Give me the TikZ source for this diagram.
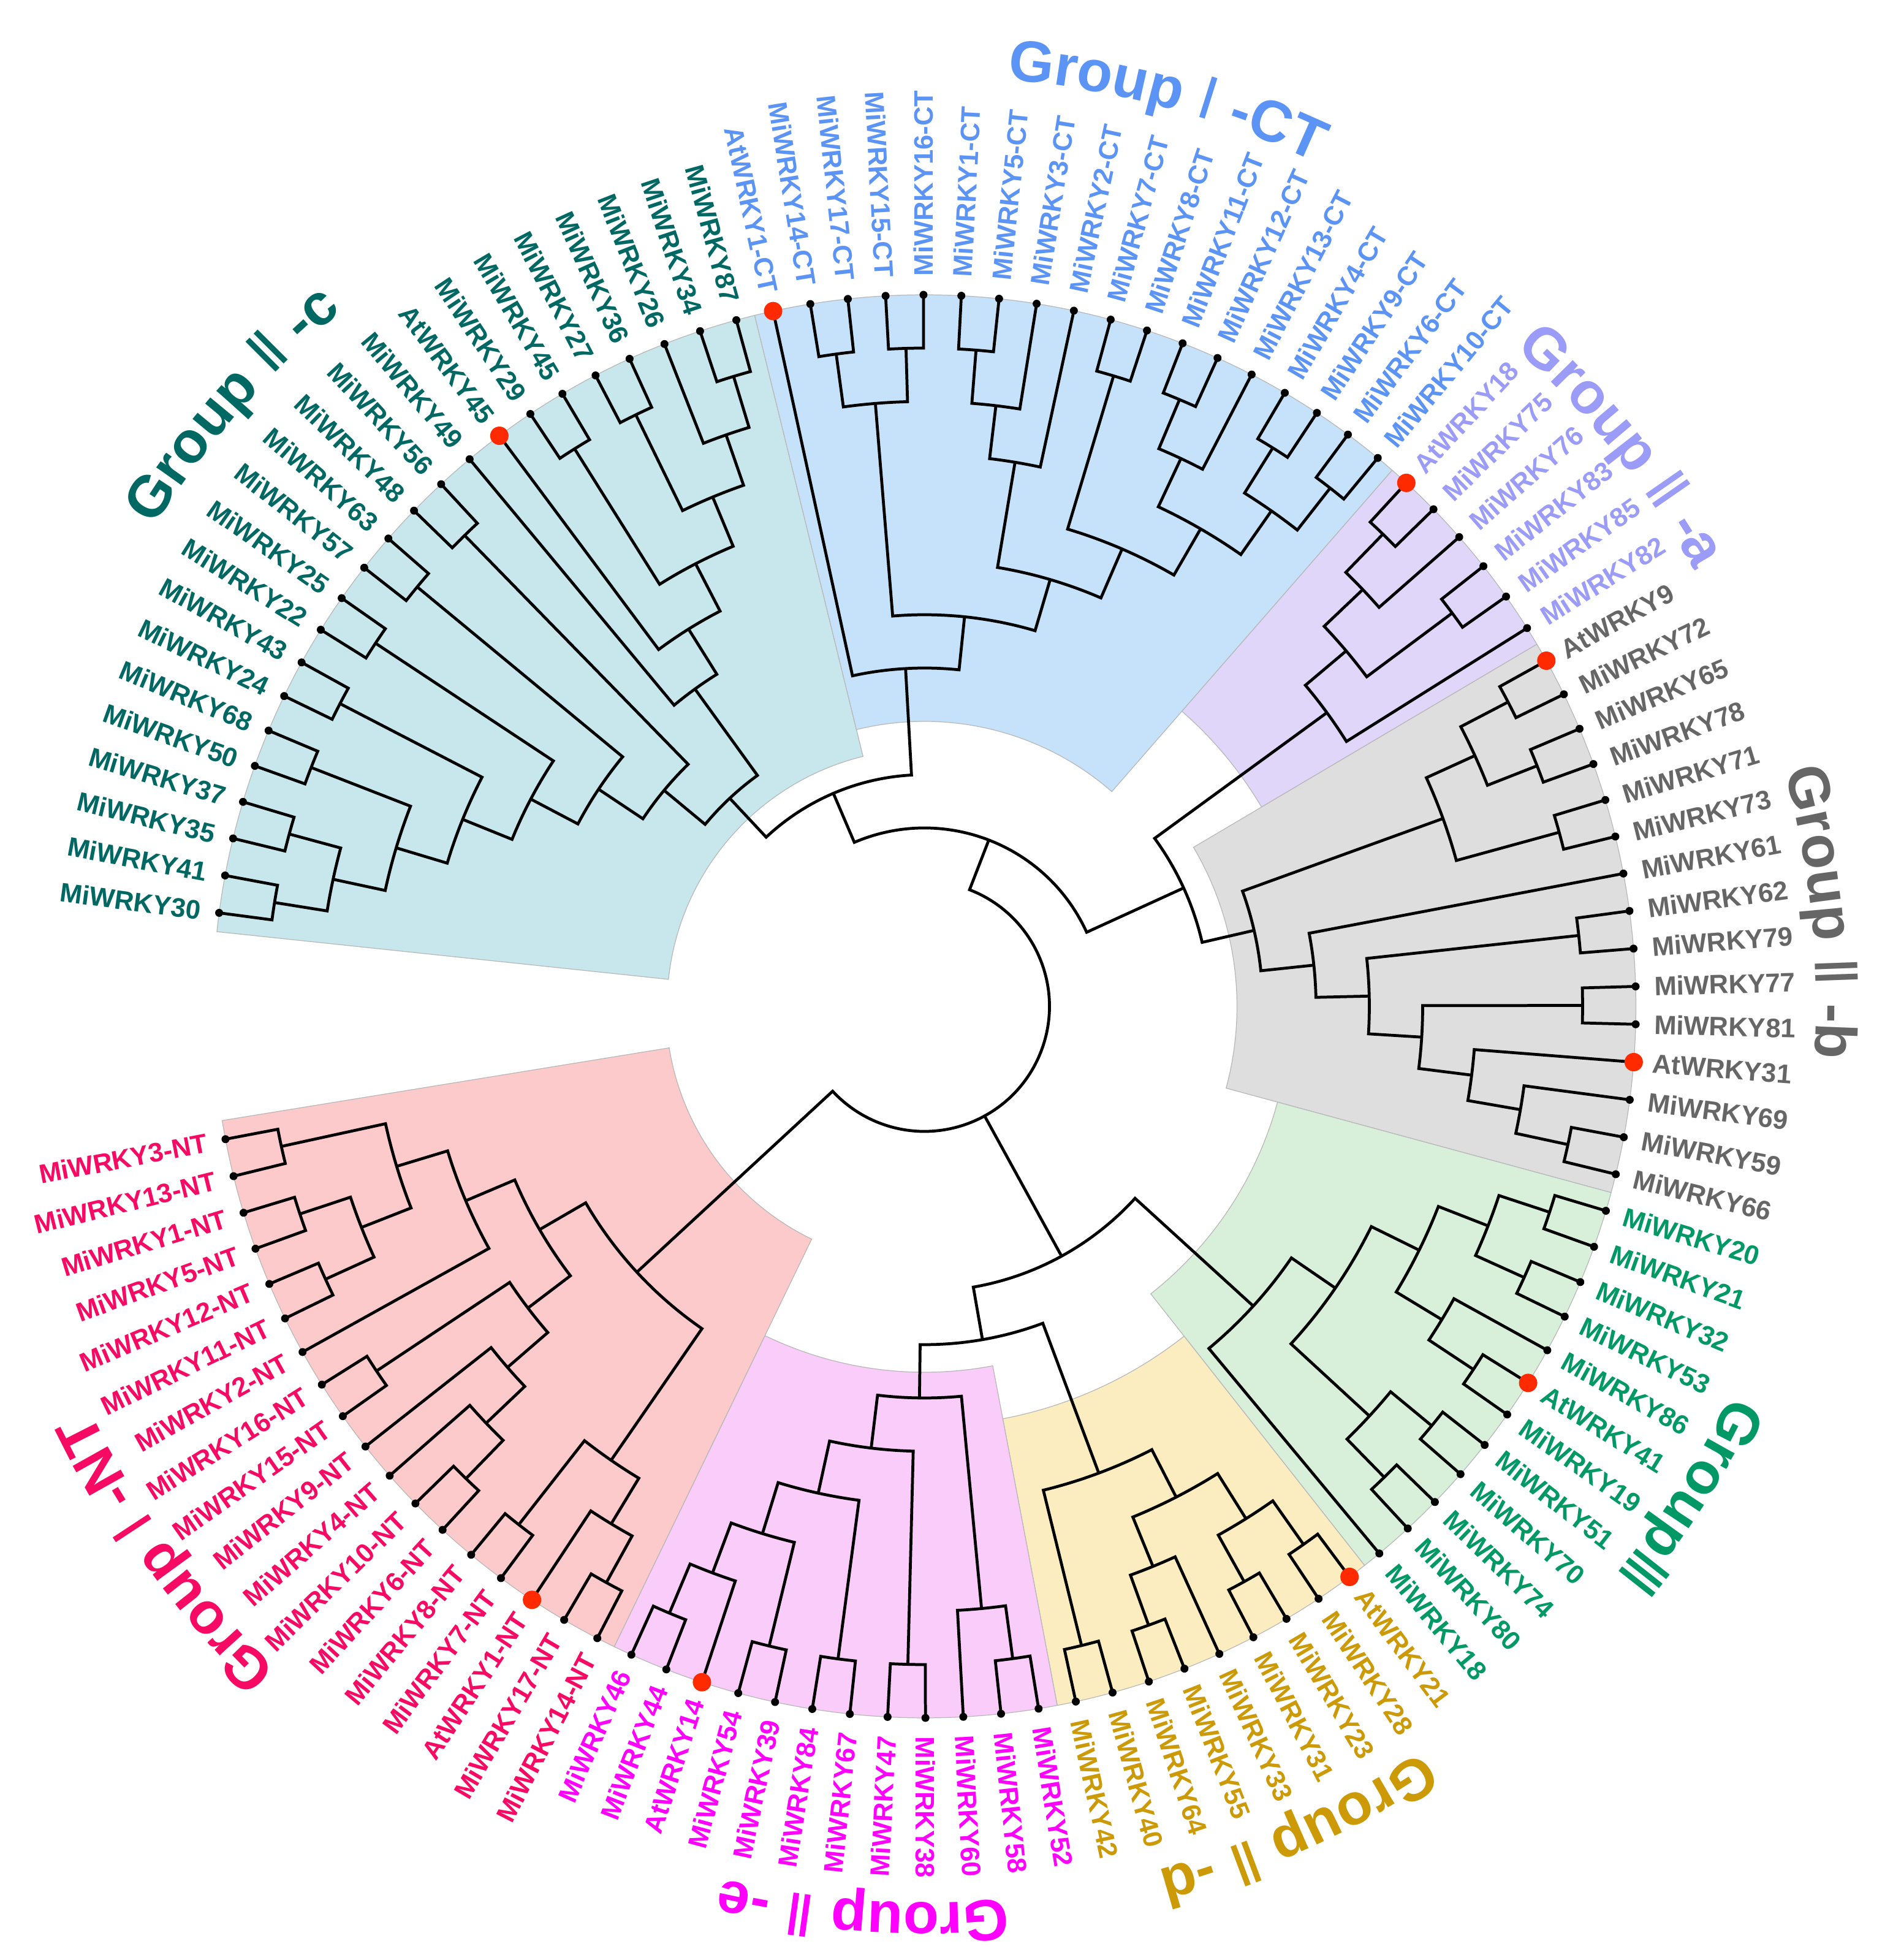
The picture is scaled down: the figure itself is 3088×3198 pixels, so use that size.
\documentclass[tikz,border=0pt]{standalone}
\usepackage{fontspec}
\setmainfont{Liberation Sans}
\newfontfamily\numfont{DejaVu Sans}
\usetikzlibrary{decorations.text}

\definecolor{cIIc}{HTML}{006863}
\definecolor{cICT}{HTML}{5C94F5}
\definecolor{cIIa}{HTML}{9B9BF8}
\definecolor{cIIb}{HTML}{666666}
\definecolor{cIII}{HTML}{009966}
\definecolor{cIId}{HTML}{CC9A06}
\definecolor{cIIe}{HTML}{FF00FF}
\definecolor{cINT}{HTML}{F70A64}
\definecolor{fIIc}{HTML}{C8E7EC}
\definecolor{fICT}{HTML}{C6E2FA}
\definecolor{fIIa}{HTML}{E0D6FA}
\definecolor{fIIb}{HTML}{DEDEDE}
\definecolor{fIII}{HTML}{D8F0DA}
\definecolor{fIId}{HTML}{FCEDC0}
\definecolor{fIIe}{HTML}{F9CCF9}
\definecolor{fINT}{HTML}{FCCACA}
\definecolor{atred}{HTML}{FF2A00}

\newcommand\gf{\fontsize{27}{30}\selectfont\bfseries}
\newcommand\gn{\numfont\fontsize{27}{30}\selectfont}

\newif\ifflipped
% leaf: index, label, colour
\newcommand\mkleaf[3]{%
  \pgfmathsetmacro\tL{172.45-3.0508*#1}%
  \expandafter\xdef\csname a@L#1\endcsname{\tL}%
  \expandafter\xdef\csname h@L#1\endcsname{0}%
  \coordinate (L#1) at (\tL:1161);
  \flippedfalse
  \ifdim\tL pt>90.5pt \flippedtrue\fi
  \ifdim\tL pt<-90.5pt \flippedtrue\fi
  \ifflipped
    \pgfmathsetmacro\tLr{\tL+180}%
    \node[lab,text=#3,rotate=\tLr,anchor=east] (T#1) at (\tL:1191) {#2};
  \else
    \node[lab,text=#3,rotate=\tL,anchor=west] (T#1) at (\tL:1191) {#2};
  \fi
}
% internal node: name, child1, child2
\newcommand\mknode[3]{%
  \edef\tA{\csname a@#2\endcsname}%
  \edef\tB{\csname a@#3\endcsname}%
  \pgfmathsetmacro\tH{max(\csname h@#2\endcsname,\csname h@#3\endcsname)+1}%
  \pgfmathsetmacro\tR{1161-87*\tH}%
  \pgfmathsetmacro\tM{(\tA+\tB)/2}%
  \expandafter\xdef\csname a@#1\endcsname{\tM}%
  \expandafter\xdef\csname h@#1\endcsname{\tH}%
  \coordinate (#1) at (\tM:\tR);
  \draw[br] (#2) -- (\tA:\tR) arc[start angle=\tA,end angle=\tB,radius=\tR] -- (#3);
}
% sector: start angle, end angle, inner radius, fill
\newcommand\mksector[4]{%
  \filldraw[fill=#4,draw=black!28,line width=0.35pt] (#1:#3) -- (#1:1161) arc[start angle=#1,end angle=#2,radius=1161] -- (#2:#3) arc[start angle=#2,end angle=#1,radius=#3] -- cycle;
}
% group label along a clockwise arc: centre angle, radius, text
\newcommand\mkgroup[3]{%
  \pgfmathsetmacro\gA{#1+75}\pgfmathsetmacro\gB{#1-75}%
  \path[decorate,decoration={text along path,text align=center,text={#3}}] (\gA:#2) arc[start angle=\gA,end angle=\gB,radius=#2];
}

\begin{document}
\begin{tikzpicture}[x=0.01cm,y=0.01cm,
  br/.style={line width=1.35pt},
  lab/.style={font=\fontsize{12.4}{14}\selectfont\bfseries,inner sep=0pt}]
\useasboundingbox (-1508.5,-1556) rectangle (1579.5,1642);
\fill[white] (-1508.5,-1556) rectangle (1579.5,1642);

% shaded sectors
\mksector{173.975}{103.807}{420}{fIIc}
\mksector{103.807}{48.893}{465}{fICT}
\mksector{48.893}{30.588}{639}{fIIa}
\mksector{30.588}{-15.174}{510}{fIIb}
\mksector{-15.174}{-51.784}{597}{fIII}
\mksector{-51.784}{-79.241}{685}{fIId}
\mksector{-79.241}{-115.851}{597}{fIIe}
\mksector{-115.851}{-170.765}{422}{fINT}

% leaves
\mkleaf{0}{MiWRKY30}{cIIc}
\mkleaf{1}{MiWRKY41}{cIIc}
\mkleaf{2}{MiWRKY35}{cIIc}
\mkleaf{3}{MiWRKY37}{cIIc}
\mkleaf{4}{MiWRKY50}{cIIc}
\mkleaf{5}{MiWRKY68}{cIIc}
\mkleaf{6}{MiWRKY24}{cIIc}
\mkleaf{7}{MiWRKY43}{cIIc}
\mkleaf{8}{MiWRKY22}{cIIc}
\mkleaf{9}{MiWRKY25}{cIIc}
\mkleaf{10}{MiWRKY57}{cIIc}
\mkleaf{11}{MiWRKY63}{cIIc}
\mkleaf{12}{MiWRKY48}{cIIc}
\mkleaf{13}{MiWRKY56}{cIIc}
\mkleaf{14}{MiWRKY49}{cIIc}
\mkleaf{15}{AtWRKY45}{cIIc}
\mkleaf{16}{MiWRKY29}{cIIc}
\mkleaf{17}{MiWRKY45}{cIIc}
\mkleaf{18}{MiWRKY27}{cIIc}
\mkleaf{19}{MiWRKY36}{cIIc}
\mkleaf{20}{MiWRKY26}{cIIc}
\mkleaf{21}{MiWRKY34}{cIIc}
\mkleaf{22}{MiWRKY87}{cIIc}
\mkleaf{23}{AtWRKY1-CT}{cICT}
\mkleaf{24}{MiWRKY14-CT}{cICT}
\mkleaf{25}{MiWRKY17-CT}{cICT}
\mkleaf{26}{MiWRKY15-CT}{cICT}
\mkleaf{27}{MiWRKY16-CT}{cICT}
\mkleaf{28}{MiWRKY1-CT}{cICT}
\mkleaf{29}{MiWRKY5-CT}{cICT}
\mkleaf{30}{MiWRKY3-CT}{cICT}
\mkleaf{31}{MiWRKY2-CT}{cICT}
\mkleaf{32}{MiWRKY7-CT}{cICT}
\mkleaf{33}{MiWRKY8-CT}{cICT}
\mkleaf{34}{MiWRKY11-CT}{cICT}
\mkleaf{35}{MiWRKY12-CT}{cICT}
\mkleaf{36}{MiWRKY13-CT}{cICT}
\mkleaf{37}{MiWRKY4-CT}{cICT}
\mkleaf{38}{MiWRKY9-CT}{cICT}
\mkleaf{39}{MiWRKY6-CT}{cICT}
\mkleaf{40}{MiWRKY10-CT}{cICT}
\mkleaf{41}{AtWRKY18}{cIIa}
\mkleaf{42}{MiWRKY75}{cIIa}
\mkleaf{43}{MiWRKY76}{cIIa}
\mkleaf{44}{MiWRKY83}{cIIa}
\mkleaf{45}{MiWRKY85}{cIIa}
\mkleaf{46}{MiWRKY82}{cIIa}
\mkleaf{47}{AtWRKY9}{cIIb}
\mkleaf{48}{MiWRKY72}{cIIb}
\mkleaf{49}{MiWRKY65}{cIIb}
\mkleaf{50}{MiWRKY78}{cIIb}
\mkleaf{51}{MiWRKY71}{cIIb}
\mkleaf{52}{MiWRKY73}{cIIb}
\mkleaf{53}{MiWRKY61}{cIIb}
\mkleaf{54}{MiWRKY62}{cIIb}
\mkleaf{55}{MiWRKY79}{cIIb}
\mkleaf{56}{MiWRKY77}{cIIb}
\mkleaf{57}{MiWRKY81}{cIIb}
\mkleaf{58}{AtWRKY31}{cIIb}
\mkleaf{59}{MiWRKY69}{cIIb}
\mkleaf{60}{MiWRKY59}{cIIb}
\mkleaf{61}{MiWRKY66}{cIIb}
\mkleaf{62}{MiWRKY20}{cIII}
\mkleaf{63}{MiWRKY21}{cIII}
\mkleaf{64}{MiWRKY32}{cIII}
\mkleaf{65}{MiWRKY53}{cIII}
\mkleaf{66}{MiWRKY86}{cIII}
\mkleaf{67}{AtWRKY41}{cIII}
\mkleaf{68}{MiWRKY19}{cIII}
\mkleaf{69}{MiWRKY51}{cIII}
\mkleaf{70}{MiWRKY70}{cIII}
\mkleaf{71}{MiWRKY74}{cIII}
\mkleaf{72}{MiWRKY80}{cIII}
\mkleaf{73}{MiWRKY18}{cIII}
\mkleaf{74}{AtWRKY21}{cIId}
\mkleaf{75}{MiWRKY28}{cIId}
\mkleaf{76}{MiWRKY23}{cIId}
\mkleaf{77}{MiWRKY31}{cIId}
\mkleaf{78}{MiWRKY33}{cIId}
\mkleaf{79}{MiWRKY55}{cIId}
\mkleaf{80}{MiWRKY64}{cIId}
\mkleaf{81}{MiWRKY40}{cIId}
\mkleaf{82}{MiWRKY42}{cIId}
\mkleaf{83}{MiWRKY52}{cIIe}
\mkleaf{84}{MiWRKY58}{cIIe}
\mkleaf{85}{MiWRKY60}{cIIe}
\mkleaf{86}{MiWRKY38}{cIIe}
\mkleaf{87}{MiWRKY47}{cIIe}
\mkleaf{88}{MiWRKY67}{cIIe}
\mkleaf{89}{MiWRKY84}{cIIe}
\mkleaf{90}{MiWRKY39}{cIIe}
\mkleaf{91}{MiWRKY54}{cIIe}
\mkleaf{92}{AtWRKY14}{cIIe}
\mkleaf{93}{MiWRKY44}{cIIe}
\mkleaf{94}{MiWRKY46}{cIIe}
\mkleaf{95}{MiWRKY14-NT}{cINT}
\mkleaf{96}{MiWRKY17-NT}{cINT}
\mkleaf{97}{AtWRKY1-NT}{cINT}
\mkleaf{98}{MiWRKY7-NT}{cINT}
\mkleaf{99}{MiWRKY8-NT}{cINT}
\mkleaf{100}{MiWRKY6-NT}{cINT}
\mkleaf{101}{MiWRKY10-NT}{cINT}
\mkleaf{102}{MiWRKY4-NT}{cINT}
\mkleaf{103}{MiWRKY9-NT}{cINT}
\mkleaf{104}{MiWRKY15-NT}{cINT}
\mkleaf{105}{MiWRKY16-NT}{cINT}
\mkleaf{106}{MiWRKY2-NT}{cINT}
\mkleaf{107}{MiWRKY11-NT}{cINT}
\mkleaf{108}{MiWRKY12-NT}{cINT}
\mkleaf{109}{MiWRKY5-NT}{cINT}
\mkleaf{110}{MiWRKY1-NT}{cINT}
\mkleaf{111}{MiWRKY13-NT}{cINT}
\mkleaf{112}{MiWRKY3-NT}{cINT}

% Group II-c
\mknode{c01}{L0}{L1}
\mknode{c23}{L2}{L3}
\mknode{c03}{c01}{c23}
\mknode{c45}{L4}{L5}
\mknode{c05}{c03}{c45}
\mknode{c67}{L6}{L7}
\mknode{c07}{c05}{c67}
\mknode{c89}{L8}{L9}
\mknode{c09}{c07}{c89}
\mknode{c1011}{L10}{L11}
\mknode{c011}{c09}{c1011}
\mknode{c1213}{L12}{L13}
\mknode{c013}{c011}{c1213}
\mknode{c2122}{L21}{L22}
\mknode{c2022}{L20}{c2122}
\mknode{c1819}{L18}{L19}
\mknode{c1822}{c1819}{c2022}
\mknode{c1617}{L16}{L17}
\mknode{c1622}{c1617}{c1822}
\mknode{c1522}{L15}{c1622}
\mknode{c1422}{L14}{c1522}
\mknode{IIc}{c013}{c1422}
% Group I-CT
\mknode{t2425}{L24}{L25}
\mknode{t2627}{L26}{L27}
\mknode{t2427}{t2425}{t2627}
\mknode{t2829}{L28}{L29}
\mknode{t2830}{t2829}{L30}
\mknode{t2831}{t2830}{L31}
\mknode{t3233}{L32}{L33}
\mknode{t3435}{L34}{L35}
\mknode{t3436}{t3435}{L36}
\mknode{t3738}{L37}{L38}
\mknode{t3940}{L39}{L40}
\mknode{t3740}{t3738}{t3940}
\mknode{t3440}{t3436}{t3740}
\mknode{t3240}{t3233}{t3440}
\mknode{t2840}{t2831}{t3240}
\mknode{t2440}{t2427}{t2840}
\mknode{ICT}{L23}{t2440}
\mknode{X}{IIc}{ICT}
% Group II-a
\mknode{a4142}{L41}{L42}
\mknode{a4143}{a4142}{L43}
\mknode{a4445}{L44}{L45}
\mknode{a4145}{a4143}{a4445}
\mknode{IIa}{a4145}{L46}
% Group II-b
\mknode{b4748}{L47}{L48}
\mknode{b4950}{L49}{L50}
\mknode{b4750}{b4748}{b4950}
\mknode{b5152}{L51}{L52}
\mknode{b4752}{b4750}{b5152}
\mknode{b6061}{L60}{L61}
\mknode{b5961}{L59}{b6061}
\mknode{b5861}{L58}{b5961}
\mknode{b5657}{L56}{L57}
\mknode{b5661}{b5657}{b5861}
\mknode{b5455}{L54}{L55}
\mknode{b5461}{b5455}{b5661}
\mknode{b5361}{L53}{b5461}
\mknode{IIb}{b4752}{b5361}
\mknode{AB}{IIa}{IIb}
\mknode{A}{X}{AB}
% Group III
\mknode{g6263}{L62}{L63}
\mknode{g6465}{L64}{L65}
\mknode{g6265}{g6263}{g6465}
\mknode{g6768}{L67}{L68}
\mknode{g6668}{L66}{g6768}
\mknode{g6268}{g6265}{g6668}
\mknode{g6970}{L69}{L70}
\mknode{g7172}{L71}{L72}
\mknode{g6972}{g6970}{g7172}
\mknode{g6272}{g6268}{g6972}
\mknode{III}{g6272}{L73}
% Group II-d
\mknode{d7475}{L74}{L75}
\mknode{d7677}{L76}{L77}
\mknode{d7477}{d7475}{d7677}
\mknode{d7980}{L79}{L80}
\mknode{d7880}{L78}{d7980}
\mknode{d7480}{d7477}{d7880}
\mknode{d8182}{L81}{L82}
\mknode{IId}{d7480}{d8182}
% Group II-e
\mknode{e8384}{L83}{L84}
\mknode{e8385}{L85}{e8384}
\mknode{e8687}{L86}{L87}
\mknode{e8889}{L88}{L89}
\mknode{e9091}{L90}{L91}
\mknode{e9394}{L93}{L94}
\mknode{e9294}{L92}{e9394}
\mknode{e9094}{e9091}{e9294}
\mknode{e8894}{e8889}{e9094}
\mknode{e8694}{e8687}{e8894}
\mknode{IIe}{e8385}{e8694}
\mknode{C2}{IId}{IIe}
\mknode{C}{III}{C2}
% Group I-NT
\mknode{n111}{L111}{L112}
\mknode{n109}{L109}{L110}
\mknode{n107}{L107}{L108}
\mknode{n107b}{n109}{n107}
\mknode{n107c}{n111}{n107b}
\mknode{n106}{n107c}{L106}
\mknode{n104}{L104}{L105}
\mknode{n100}{L100}{L101}
\mknode{n102}{L102}{n100}
\mknode{n103}{L103}{n102}
\mknode{n104b}{n104}{n103}
\mknode{n5}{n106}{n104b}
\mknode{n98}{L98}{L99}
\mknode{n95}{L95}{L96}
\mknode{n97}{L97}{n95}
\mknode{n9599}{n98}{n97}
\mknode{INT}{n5}{n9599}
% root (three children)
\edef\rA{\csname a@A\endcsname}
\edef\rC{\csname a@C\endcsname}
\edef\rN{\csname a@INT\endcsname}
\draw[br] (A) -- (\rA:204) arc[start angle=\rA,end angle=\rN,radius=204] -- (INT);
\draw[br] (C) -- (\rC:204);

% leaf dots
\foreach \i in {0,...,112}{\fill (L\i) circle[radius=6.5];}
\foreach \i in {15,23,41,47,58,67,74,92,97}{\fill[atred] (L\i) circle[radius=15];}

% group labels
\mkgroup{139.0}{1480}{|\gf\color{cIIc}|Group |\gn\color{cIIc}|Ⅱ|\gf\color{cIIc}| -c}
\mkgroup{75.0}{1518}{|\gf\color{cICT}|Group |\gn\color{cICT}|Ⅰ|\gf\color{cICT}| -CT}
\mkgroup{38.8}{1443}{|\gf\color{cIIa}|Group |\gn\color{cIIa}|Ⅱ|\gf\color{cIIa}| -a}
\mkgroup{6.0}{1455}{|\gf\color{cIIb}|Group |\gn\color{cIIb}|Ⅱ|\gf\color{cIIb}| -b}
\mkgroup{-32.6}{1460}{|\gf\color{cIII}|Group|\gn\color{cIII}|Ⅲ}
\mkgroup{-65.6}{1460}{|\gf\color{cIId}|Group |\gn\color{cIId}|Ⅱ|\gf\color{cIId}| -d}
\mkgroup{-93.9}{1462}{|\gf\color{cIIe}|Group |\gn\color{cIIe}|Ⅱ|\gf\color{cIIe}| -e}
\mkgroup{-144.2}{1513}{|\gf\color{cINT}|Group |\gn\color{cINT}|Ⅰ|\gf\color{cINT}| -NT}
\end{tikzpicture}
\end{document}
